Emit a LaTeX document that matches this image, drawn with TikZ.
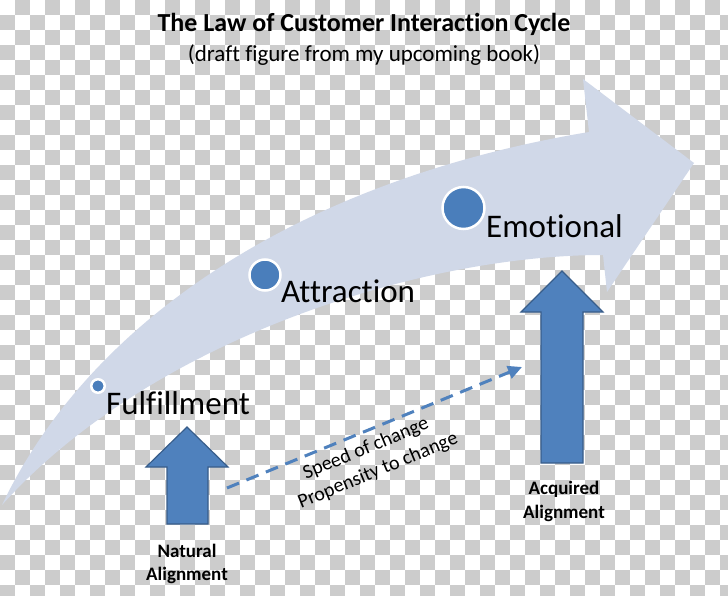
\documentclass[tikz,border=0pt]{standalone}
\usepackage{fontspec}
\setmainfont{Carlito}[Ligatures={NoCommon}]
\usetikzlibrary{arrows.meta}
\definecolor{chk}{HTML}{CCCCCC}
\definecolor{band}{HTML}{D0D8E8}
\definecolor{ublue}{HTML}{4F81BD}
\definecolor{ublueline}{HTML}{385D8A}
\definecolor{dotblue}{HTML}{4A7EBB}
\begin{document}
\begin{tikzpicture}[x=1pt,y=-1pt,
  bigarrow/.style={fill=ublue,draw=ublueline,line width=1.2pt,line join=miter},
  dot/.style={circle,fill=dotblue,draw=white,line width=2.5pt,inner sep=0pt},
  stage/.style={font=\fontsize{33}{39}\selectfont,anchor=base west,inner sep=0pt},
  lbl/.style={font=\bfseries\fontsize{19}{23}\selectfont,anchor=base,inner sep=0pt},
  slopelbl/.style={font=\fontsize{20}{24}\selectfont,rotate=22.5,inner sep=0pt},
  dashconn/.style={draw=ublue,line width=3pt,dash pattern=on 13pt off 8pt,-{Triangle[length=14pt,width=13pt]}}]
\useasboundingbox (0,0) rectangle (728,596);
\begin{scope}
\clip (0,0) rectangle (728,596);
\fill[white] (0,0) rectangle (728,596);
\foreach \j in {0,...,39}{
  \foreach \i in {0,2,...,48}{
    \pgfmathtruncatemacro\xi{\i+1-mod(\j,2)}
    \fill[chk] (\xi*15,\j*15) rectangle ++(15,15);
  }
}
\end{scope}
% title
\node[font=\bfseries\fontsize{26}{31}\selectfont,anchor=base,inner sep=0pt] (title) at (364,32) {The Law of Customer Interaction Cycle};
\node[font=\fontsize{23}{28}\selectfont,anchor=base,inner sep=0pt] (subtitle) at (364,62) {(draft figure from my upcoming book)};
% big curved arrow
\fill[band] (2,505) .. controls (90,320) and (300,180) .. (589,132) -- (583,79) -- (694,163) -- (607,292) -- (603,255) .. controls (420,255) and (150,340) .. (2,505) -- cycle;
% stage dots
\node[dot,minimum size=13.5pt] (d1) at (98,386) {};
\node[dot,minimum size=31pt] (d2) at (265,275) {};
\node[dot,minimum size=42pt] (d3) at (463.5,208) {};
\node[stage] (fulfil) at (106,414) {Fulfillment};
\node[stage] (attr) at (281,302) {Attraction};
\node[stage] (emot) at (486,237) {Emotional};
% up arrows
\draw[bigarrow] (167,524) -- (167,467) -- (146,467) -- (187,427) -- (228,467) -- (208,467) -- (208,524) -- cycle;
\draw[bigarrow] (541,463) -- (541,312) -- (521,312) -- (562,271) -- (603,312) -- (583,312) -- (583,463) -- cycle;
\node[lbl] (nat1) at (187,557) {Natural};
\node[lbl] (nat2) at (187,580) {Alignment};
\node[lbl] (acq1) at (564,494) {Acquired};
\node[lbl] (acq2) at (564,518) {Alignment};
% dashed connector
\coordinate (dstart) at (227,488);
\coordinate (dend) at (522,367);
\draw[dashconn] (dstart) -- (dend);
\node[slopelbl] (speed) at (366,449) {Speed of change};
\node[slopelbl] (prop) at (378,471) {Propensity to change};
\end{tikzpicture}
\end{document}
